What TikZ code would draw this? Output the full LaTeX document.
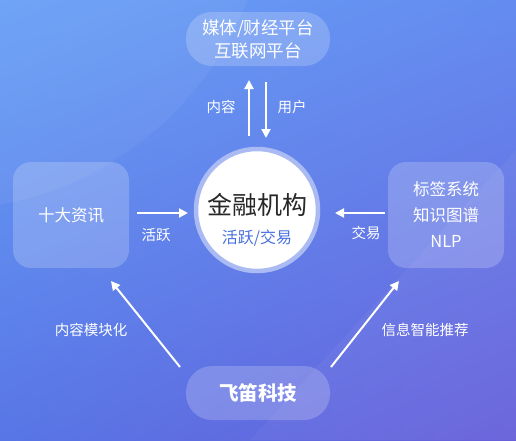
\documentclass[tikz,border=0pt]{standalone}
\usepackage{fontspec}
\setmainfont{Noto Sans CJK SC}
\usetikzlibrary{arrows.meta,shadings}
\definecolor{bgTL}{RGB}{104,160,246}
\definecolor{bgTR}{RGB}{100,140,240}
\definecolor{bgBL}{RGB}{88,118,230}
\definecolor{bgBR}{RGB}{104,96,218}
\definecolor{ringc}{RGB}{170,186,242}
\definecolor{subblue}{RGB}{74,112,224}
\definecolor{darktxt}{RGB}{40,40,40}
\tikzset{
  glass/.style={fill=white, fill opacity=0.2, text opacity=1, text=white, align=center},
  pill/.style={glass, rounded corners=26pt, minimum width=144pt, minimum height=54pt},
  squarebox/.style={glass, rounded corners=18pt, minimum width=116pt, minimum height=106pt},
  flow/.style={draw=white, line width=2pt, -{Triangle[width=9pt,length=9pt]}},
  lbl/.style={text=white, font=\fontsize{14.5}{17}\selectfont}
}
\begin{document}
\begin{tikzpicture}[x=1pt,y=-1pt]
\useasboundingbox (0,0) rectangle (516,440);
\shade[upper left=bgTL, upper right=bgTR, lower left=bgBL, lower right=bgBR] (0,0) rectangle (516,440);
\begin{scope}
\clip (0,0) rectangle (516,440);
\fill[white, opacity=0.05] (-60,-120) circle (330pt);
\fill[white, opacity=0.04] (250,440) -- (516,150) -- (516,440) -- cycle;
\end{scope}
% nodes
\node[pill, font=\fontsize{17.5}{23}\selectfont] (top) at (258,39) {媒体/财经平台\\互联网平台};
\node[squarebox, font=\fontsize{16.5}{20}\selectfont] (left) at (71,215) {十大资讯};
\node[squarebox, font=\fontsize{16.5}{26}\selectfont] (right) at (446,215) {标签系统\\知识图谱\\NLP};
\node[pill, font=\fontsize{19.5}{22}\selectfont\bfseries] (bot) at (258,393) {飞笛科技};
\node[circle, fill=white, draw=ringc, line width=4.5pt, minimum size=122pt, inner sep=0pt] (center) at (257,210) {};
\node[text=darktxt, font=\fontsize{25}{28}\selectfont] (ctitle) at (257,205) {金融机构};
\node[text=subblue, font=\fontsize{16}{18}\selectfont] (csub) at (257,238) {活跃/交易};
% coordinates for arrows
\coordinate (tu1) at (249,136); \coordinate (tu2) at (249,80);
\coordinate (td1) at (266,82); \coordinate (td2) at (266,138);
\coordinate (l1) at (137,213); \coordinate (l2) at (188,213);
\coordinate (r1) at (385,213); \coordinate (r2) at (335,213);
\coordinate (bl1) at (180,367); \coordinate (bl2) at (111,281);
\coordinate (br1) at (331,367); \coordinate (br2) at (399,281);
\draw[flow] (tu1) -- (tu2);
\draw[flow] (td1) -- (td2);
\draw[flow] (l1) -- (l2);
\draw[flow] (r1) -- (r2);
\draw[flow] (bl1) -- (bl2);
\draw[flow] (br1) -- (br2);
\node[lbl] (ltu) at (221,107) {内容};
\node[lbl] (ltd) at (292,107) {用户};
\node[lbl] (ll) at (156,235) {活跃};
\node[lbl] (lr) at (366,233) {交易};
\node[lbl] (lbl) at (91,330) {内容模块化};
\node[lbl] (lbr) at (425,330) {信息智能推荐};
\end{tikzpicture}
\end{document}
